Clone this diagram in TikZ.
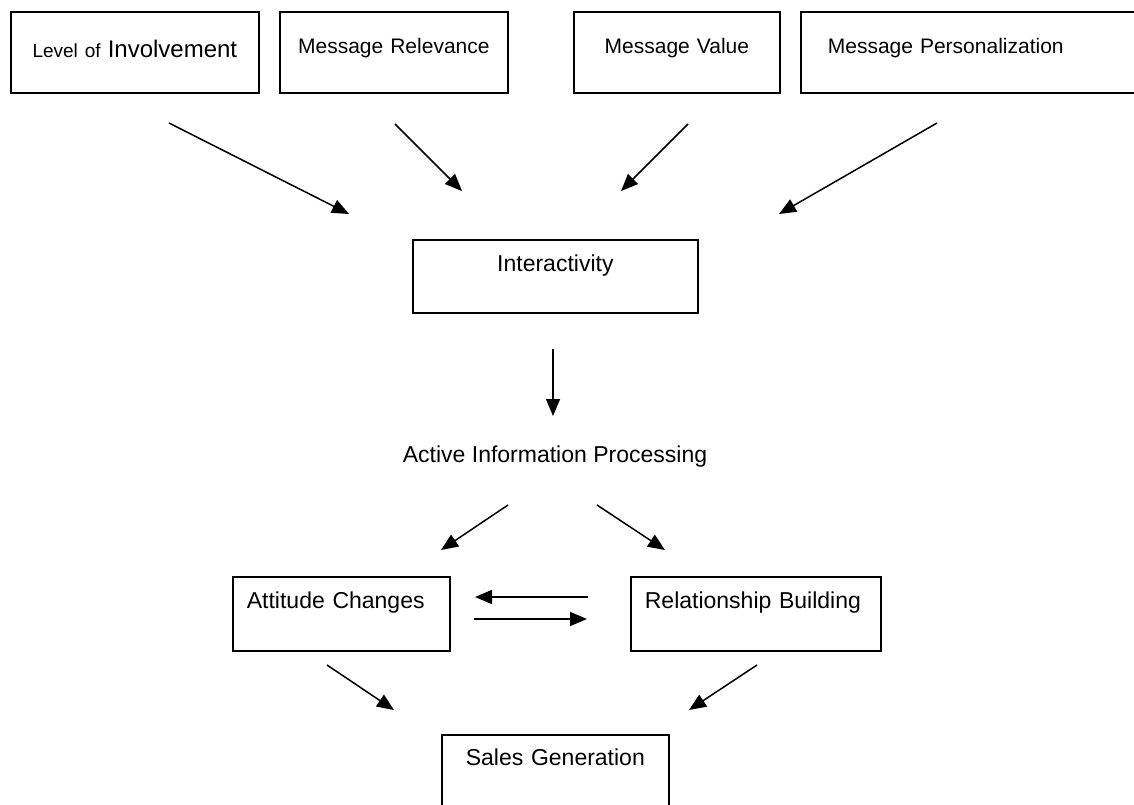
\documentclass[tikz,border=0pt]{standalone}
\usepackage{fontspec}
\setmainfont{Liberation Sans}
\usetikzlibrary{positioning}
\usetikzlibrary{arrows.meta}

\begin{document}
\begin{tikzpicture}[
    x=1pt, y=-1pt,
    kasse/.style={rectangle, draw, line width=1.7pt, anchor=north west, inner xsep=0pt, inner ysep=0pt,
    font=\fontsize{21}{25}\selectfont},
    midt/.style={align=center},
    venstre/.style={align=left, inner xsep=14pt},
    nede/.style={font=\fontsize{23}{27}\selectfont},
    pil/.style={-{Triangle[length=17pt,width=14pt]}, line width=1.5pt}
    ]
\useasboundingbox (0,0) rectangle (1134,804);

%Upper row
\node[kasse, midt, text width=248pt, text height=46pt, text depth=35pt] (lvl) at (10,11)
    {{\fontsize{19}{22}\selectfont Level of} {\fontsize{24}{28}\selectfont Involvement}};
\node[kasse, midt, text width=228pt, text height=42pt, text depth=39pt] (rel) at (279,11) {Message Relevance};
\node[kasse, midt, text width=206pt, text height=42pt, text depth=39pt] (val) at (573,11) {Message Value};
\node[kasse, align=left, inner xsep=27pt, text width=300pt, text height=42pt, text depth=39pt] (pers) at (800,11)
    {Message Personalization};

%Middle part
\node[kasse, nede, midt, text width=285pt, text height=32pt, text depth=41pt] (inter) at (412,239) {Interactivity};
\node[nede] (aip) at (555,457) {Active Information Processing};

%Lower part
\node[kasse, nede, venstre, text width=189pt, text height=32pt, text depth=42pt] (att) at (232,576) {Attitude Changes};
\node[kasse, nede, venstre, text width=222pt, text height=32pt, text depth=42pt] (relb) at (630,576) {Relationship Building};
\node[kasse, nede, midt, text width=227pt, text height=31pt, text depth=70pt] (sales) at (441,734) {Sales Generation};

%Arrow ends
\coordinate (lvl-ut) at (169,123);
\coordinate (rel-ut) at (395,124);
\coordinate (val-ut) at (688,124);
\coordinate (pers-ut) at (937,123);
\coordinate (inter-inn1) at (349,214);
\coordinate (inter-inn2) at (462,191);
\coordinate (inter-inn3) at (621,191);
\coordinate (inter-inn4) at (779,214);
\coordinate (inter-ut) at (553,349);
\coordinate (aip-inn) at (553,416);
\coordinate (aip-ut1) at (508,505);
\coordinate (aip-ut2) at (597,505);
\coordinate (att-inn) at (441,550);
\coordinate (relb-inn) at (665,550);
\coordinate (att-h) at (474,619);
\coordinate (relb-v) at (588,597);
\coordinate (att-v) at (475,597);
\coordinate (relb-h) at (587,619);
\coordinate (att-ut) at (327,665);
\coordinate (relb-ut) at (757,665);
\coordinate (sales-inn1) at (394,710);
\coordinate (sales-inn2) at (689,710);

\draw[pil] (lvl-ut) -- (inter-inn1);
\draw[pil] (rel-ut) -- (inter-inn2);
\draw[pil] (val-ut) -- (inter-inn3);
\draw[pil] (pers-ut) -- (inter-inn4);
\draw[pil] (inter-ut) -- (aip-inn);
\draw[pil] (aip-ut1) -- (att-inn);
\draw[pil] (aip-ut2) -- (relb-inn);
\draw[pil] (relb-v) -- (att-v);
\draw[pil] (att-h) -- (relb-h);
\draw[pil] (att-ut) -- (sales-inn1);
\draw[pil] (relb-ut) -- (sales-inn2);
\end{tikzpicture}
\end{document}
